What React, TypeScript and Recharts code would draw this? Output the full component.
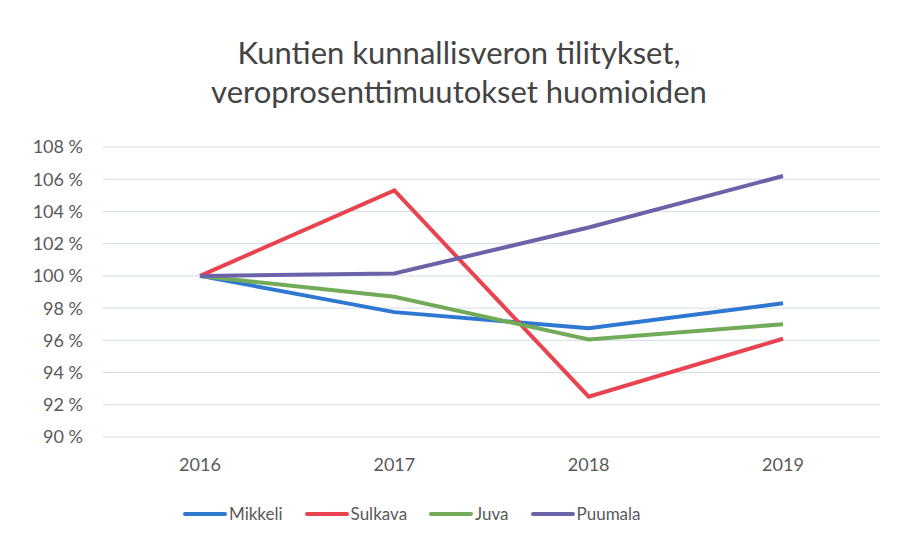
import { LineChart, Line, XAxis, YAxis, CartesianGrid } from "recharts";

const years = ["2016", "2017", "2018", "2019"];
const mikkeli = [100, 97.75, 96.75, 98.3];
const sulkava = [100, 105.3, 92.5, 96.1];
const juva = [100, 98.7, 96.05, 97.0];
const puumala = [100, 100.15, 103.0, 106.2];
const yTicks = [90, 92, 94, 96, 98, 100, 102, 104, 106, 108];

const series = [
  { key: "Mikkeli", values: mikkeli, color: "#2f78d2" },
  { key: "Sulkava", values: sulkava, color: "#e9434f" },
  { key: "Juva", values: juva, color: "#72ab58" },
  { key: "Puumala", values: puumala, color: "#6a63a8" },
];

const data = years.map((year, i) => {
  const row: Record<string, string | number> = { year };
  series.forEach((s) => (row[s.key] = s.values[i]));
  return row;
});

const font = "Lato, 'Open Sans', sans-serif";

function ChartLegend() {
  return (
    <div
      style={{
        position: "absolute",
        left: 183,
        top: 503,
        display: "flex",
        alignItems: "center",
        fontFamily: font,
        fontSize: 17,
        color: "#595959",
      }}
    >
      {series.map((s) => (
        <div key={s.key} style={{ display: "flex", alignItems: "center", marginRight: 22 }}>
          <span style={{ width: 44, height: 4, background: s.color, borderRadius: 2, marginRight: 2 }} />
          <span>{s.key}</span>
        </div>
      ))}
    </div>
  );
}

export default function App() {
  return (
    <div style={{ position: "absolute", left: 0, top: 0, width: 897, height: 544, background: "#fff" }}>
      <div
        style={{
          position: "absolute",
          left: 0,
          width: 918,
          top: 33,
          textAlign: "center",
          fontFamily: font,
          fontSize: 31,
          lineHeight: "39px",
          color: "#444",
        }}
      >
        Kuntien kunnallisveron tilitykset,
        <br />
        veroprosenttimuutokset huomioiden
      </div>
      <LineChart width={897} height={544} data={data} margin={{ top: 147, right: 17, bottom: 77, left: 0 }}>
        <CartesianGrid vertical={false} stroke="#d3dbe5" />
        <XAxis
          dataKey="year"
          axisLine={false}
          tickLine={false}
          padding={{ left: 97, right: 97 }}
          tickMargin={15}
          tick={{ fill: "#595959", fontSize: 18, fontFamily: font }}
        />
        <YAxis
          width={103}
          domain={[90, 108]}
          ticks={yTicks}
          axisLine={false}
          tickLine={false}
          tickMargin={14}
          tickFormatter={(v: number) => `${v} %`}
          tick={{ fill: "#595959", fontSize: 18, fontFamily: font }}
        />
        {series.map((s) => (
          <Line
            key={s.key}
            dataKey={s.key}
            type="linear"
            stroke={s.color}
            strokeWidth={4}
            dot={false}
            isAnimationActive={false}
          />
        ))}
      </LineChart>
      <ChartLegend />
    </div>
  );
}
